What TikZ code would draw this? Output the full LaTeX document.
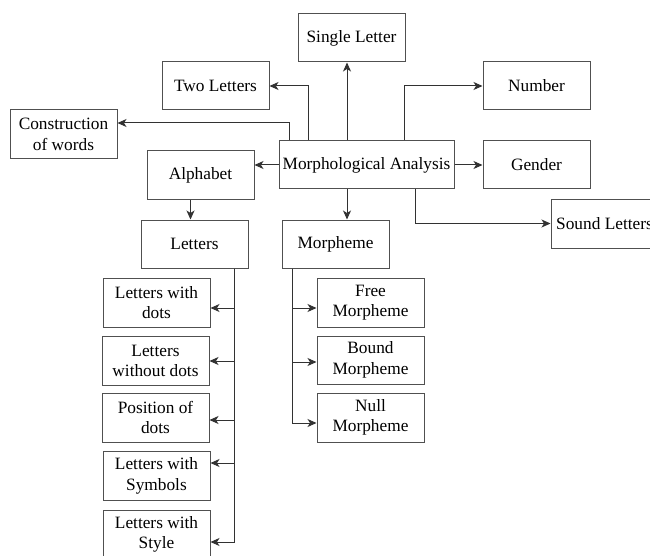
\documentclass[tikz,border=0pt]{standalone}
\usepackage{fontspec}
\setmainfont{Liberation Serif}
\usetikzlibrary{arrows.meta,positioning,calc}
\definecolor{boxgray}{RGB}{80,80,80}
\definecolor{linegray}{RGB}{50,50,50}

\begin{document}
\begin{tikzpicture}[x=1pt,y=-1pt,font=\fontsize{17.3}{20.6}\selectfont,
  flow/.style={-{Stealth[length=9pt,width=8pt,inset=2.5pt]},draw=linegray,line width=1pt},
  box/.style={draw=boxgray,fill=white,line width=1pt,minimum width=107pt,
    minimum height=48pt,inner sep=1pt,align=center},
  wide/.style={box,minimum width=175pt}]

\useasboundingbox (0,0) rectangle (650,556);

% Central node and its first ring.
\node[wide] (morph) at (366.5,165) {Morphological Analysis};
\node[box] (single) at (351.5,38) {Single Letter};
\node[box] (two) at (215.5,86) {Two Letters};
\node[box] (number) at (536.5,86) {Number};
\node[box,minimum height=49pt] (constr) at (63.5,134.5) {Construction\\of words};
\node[box] (alpha) at (200.5,175) {Alphabet};
\node[box] (gender) at (536.5,165) {Gender};
\node[box,minimum height=49pt] (sound) at (604.5,223.5) {Sound Letters};
\node[box] (letters) at (194.5,244) {Letters};
\node[box] (morpheme) at (335.5,244) {Morpheme};

% Kinds of letters.
\node[box,minimum height=49pt] (ldots) at (156.5,302.5) {Letters with\\dots};
\node[box,minimum height=49pt] (lnodots) at (155.5,361) {Letters\\without dots};
\node[box,minimum height=49pt] (posdots) at (155.5,417.5) {Position of\\dots};
\node[box,minimum height=49pt] (lsym) at (156.5,476) {Letters with\\Symbols};
\node[box,minimum height=49pt] (lstyle) at (156.5,534.5) {Letters with\\Style};

% Kinds of morphemes.
\node[box,minimum height=49pt] (free) at (370.5,302.5) {Free\\Morpheme};
\node[box] (bound) at (370.5,360) {Bound\\Morpheme};
\node[box,minimum height=49pt] (null) at (370.5,417.5) {Null\\Morpheme};

% Connectors leaving the central node.
\draw[flow] ([xshift=-19.5pt]morph.north) -- ([xshift=-19.5pt]morph.north |- single.south);
\draw[flow] ([xshift=-58.5pt]morph.north) |- (two.east);
\draw[flow] ([xshift=-77.5pt]morph.north) |- ([yshift=11.5pt]constr.east);
\draw[flow] ([xshift=37.5pt]morph.north) |- (number.west);
\draw[flow] (morph.east) -- (gender.west);
\draw[flow] ([xshift=48.5pt]morph.south) |- (sound.west);
\draw[flow] (morph.west) -- (morph.west -| alpha.east);
\draw[flow] ([xshift=-19.5pt]morph.south) -- ([xshift=-19.5pt]morph.south |- morpheme.north);
\draw[flow] ([xshift=-4pt]letters.north |- alpha.south) -- ([xshift=-4pt]letters.north);

% Trunks down to the leaves.
\coordinate (ltrunk) at ([xshift=-14pt]letters.south east);
\coordinate (mtrunk) at ([xshift=11pt]morpheme.south west);
\foreach \n/\dy in {ldots/-5.5,lnodots/0,posdots/-2.5,lsym/13,lstyle/-7.5}
  \draw[flow] (ltrunk) |- ([yshift=\dy pt]\n.east);
\foreach \n/\dy in {free/-5.5,bound/-2,null/-5.5}
  \draw[flow] (mtrunk) |- ([yshift=\dy pt]\n.west);
\end{tikzpicture}
\end{document}
